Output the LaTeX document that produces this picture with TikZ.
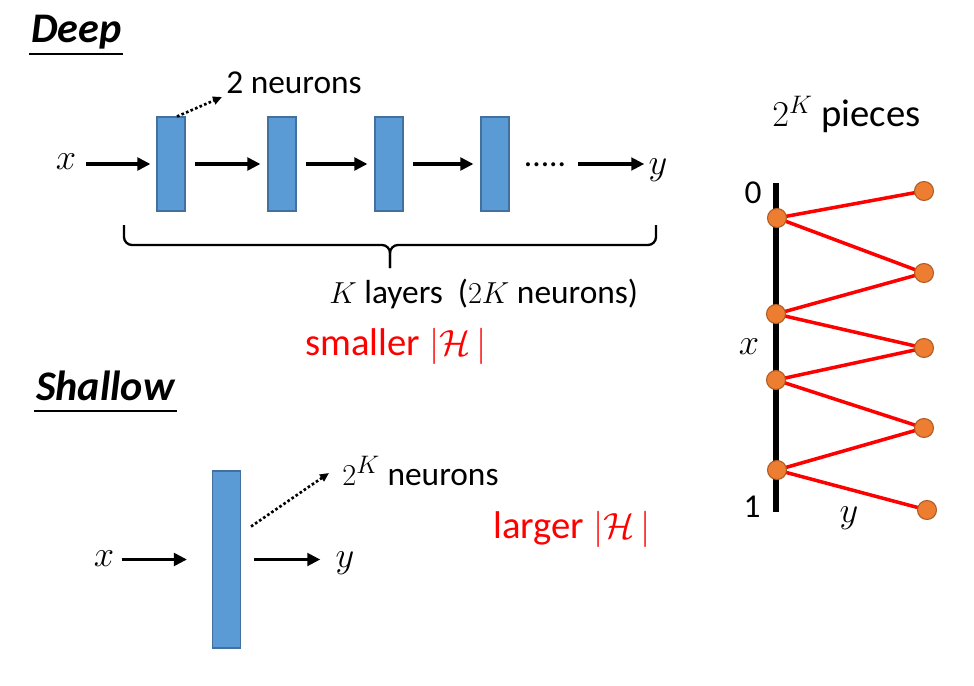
\documentclass[tikz,border=0pt]{standalone}
\usepackage{fontspec}
\setmainfont{Carlito}
\usepackage{tikz}
\usetikzlibrary{positioning,arrows.meta,backgrounds,calc}
\definecolor{layer}{HTML}{5B9BD5}
\definecolor{layeredge}{HTML}{41719C}
\definecolor{knotfill}{HTML}{ED7D31}
\definecolor{knotedge}{HTML}{AE5A21}
\definecolor{hot}{HTML}{FF0000}

\begin{document}
\begin{tikzpicture}[x=0.02cm, y=-0.02cm,
      layerbox/.style={draw=layeredge, fill=layer, line width=0.6pt, minimum width=0.56cm, inner sep=0pt},
      flow/.style={-{Triangle[length=0.26cm,width=0.25cm]}, line width=2.1pt, shorten <=0.18cm, shorten >=0.14cm},
      hint/.style={dash pattern=on 1.5pt off 1.3pt, line width=1.5pt, -{Triangle[length=0.18cm,width=0.16cm]}},
      hdr/.style={font=\fontsize{24}{28}\selectfont\bfseries\itshape, inner sep=1pt, text depth=0.18cm},
      rule/.style={line width=1.1pt},
      lbl/.style={font=\fontsize{19}{23}\selectfont, inner sep=0pt},
      var/.style={font=\fontsize{21}{25}\selectfont, inner sep=0pt},
      warn/.style={font=\fontsize{22}{26}\selectfont, text=hot, inner sep=0pt},
      knot/.style={circle, draw=knotedge, fill=knotfill, line width=0.6pt, minimum size=0.38cm, inner sep=0pt},
      zig/.style={draw=hot, line width=2pt, line join=round}]
    \useasboundingbox (0,0) rectangle (974,686);
    % deep
    \node[hdr, anchor=base west] (deep) at (29,43) {Deep};
    \draw[rule] (deep.south west) -- (deep.south east);
    \foreach \n/\cx in {1/171, 2/282, 3/389, 4/495}
      \node[layerbox, minimum height=1.88cm] (d\n) at (\cx,164) {};
    \node[var] (din) at (66,162) {$x$};
    \node[lbl, anchor=base] (more) at (545,167) {.....};
    \node[var] (dout) at (658,170) {$y$};
    \draw[flow, shorten <=0.2cm, shorten >=0.12cm] (din.east |- d1.west) -- (d1.west);
    \foreach \a/\b in {1/2, 2/3, 3/4}
      \draw[flow] (d\a.east) -- (d\b.west);
    \draw[flow, shorten <=0.24cm, shorten >=0.08cm] (more.east |- d1.west) -- (dout.west |- d1.west);
    \node[lbl, anchor=base west] (two) at (226,94) {2 neurons};
    \draw[hint] ([xshift=0.12cm]d1.north) -- ([shift={(-0.08cm,-0.06cm)}]two.base west);
    \draw[line width=1.3pt, rounded corners=0.16cm] (124,225) |- (390,245) -- (390,268);
    \draw[line width=1.3pt, rounded corners=0.16cm] (656,225) |- (390,245) -- (390,268);
    \node[lbl, anchor=base west] (klay) at (329,303) {$K$ layers~~($2K$ neurons)};
    \node[warn, anchor=base west] (small) at (305,355) {smaller $|\mathcal{H}\,|$};
    % shallow
    \node[hdr, anchor=base west] (shal) at (34,400) {Shallow};
    \draw[rule] (shal.south west) -- (shal.south east);
    \node[layerbox, minimum height=3.54cm] (s1) at (226.5,559.5) {};
    \node[var] (sin) at (104,559) {$x$};
    \node[var] (sout) at (345,563) {$y$};
    \draw[flow, shorten <=0.15cm, shorten >=0.5cm] (sin.east |- s1.west) -- (s1.west);
    \draw[flow, shorten <=0.26cm, shorten >=0.3cm] (s1.east) -- (sout.west |- s1.east);
    \node[lbl, anchor=base west] (twok) at (342,485) {$2^K$ neurons};
    \draw[hint] ([shift={(0.2cm,0.66cm)}]s1.east) -- ([shift={(-0.26cm,0.24cm)}]twok.base west);
    \node[warn, anchor=base west] (large) at (493,538) {larger $|\mathcal{H}\,|$};
    % pieces
    \node[font=\fontsize{22}{26}\selectfont, inner sep=0pt, anchor=base west] (pieces) at (772,127) {$2^K$ pieces};
    \coordinate (axtop) at (776,183);
    \coordinate (axbot) at (776,512);
    \draw[line width=0.12cm] (axtop) -- (axbot);
    \node[lbl] (zero) at (753,193) {0};
    \node[lbl] (one) at (752,507) {1};
    \node[var] (ax) at (749,347) {$x$};
    \node[var] (ay) at (849,518) {$y$};
    \foreach \n/\px/\py in {1/777/218, 2/776/314, 3/776/380, 4/777/470}
      \node[knot] (l\n) at (\px,\py) {};
    \foreach \n/\px/\py in {1/924/191, 2/924/273, 3/924/348, 4/924/428, 5/927/510}
      \node[knot] (r\n) at (\px,\py) {};
    \begin{scope}[on background layer]
      \draw[zig] (r1.center) -- (l1.center) -- (r2.center) -- (l2.center) -- (r3.center)
        -- (l3.center) -- (r4.center) -- (l4.center) -- (r5.center);
    \end{scope}
  \end{tikzpicture}
\end{document}
